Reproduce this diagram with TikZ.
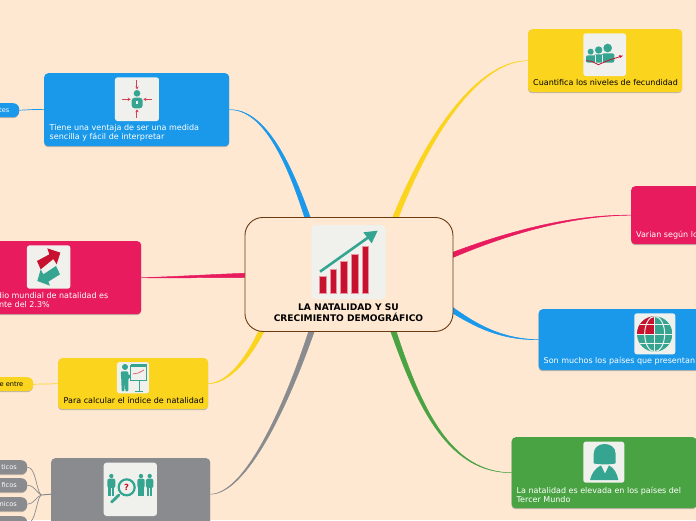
\documentclass[tikz,border=0pt]{standalone}
\usepackage{fontspec}
\setmainfont{DejaVu Sans}
\usetikzlibrary{calc,backgrounds,arrows.meta}
\definecolor{bgc}{HTML}{FFE8D2}
\definecolor{yel}{HTML}{FBD41E}
\definecolor{blu}{HTML}{1A98EA}
\definecolor{pnk}{HTML}{E81B5E}
\definecolor{grn}{HTML}{4AA343}
\definecolor{gry}{HTML}{8A8B8F}
\definecolor{brn}{HTML}{6B3A10}
\definecolor{ico}{HTML}{F0F1EC}
\definecolor{teal}{HTML}{35A592}
\definecolor{crim}{HTML}{C8102F}
\tikzset{
 x=1pt,y=-1pt,
 iconbox/.style={fill=ico,draw=none,rounded corners=2.5pt},
 lbl/.style={font=\fontsize{8}{9.3}\selectfont,inner sep=0,align=left,text=white},
 lblw/.style={lbl,anchor=west},
 lble/.style={lbl,anchor=east},
 lblk/.style={lbl,anchor=west,text=black},
 chiplbl/.style={font=\fontsize{6.6}{8}\selectfont,inner sep=0,anchor=east},
 toplbl/.style={font=\bfseries\fontsize{9.1}{11}\selectfont,inner sep=0,align=center,text=black},
 thinlink/.style={draw=#1,line width=.7pt},
 zoomed/.style={shift={#1},x=.33333pt,y=-.33333pt},
}
\newcommand{\cardbox}[6]{%
 \fill[black!50,rounded corners=4pt,opacity=.5] (#1,#2+1.2) rectangle ++(#3,#4);
 \node[fill=#5,rounded corners=4pt,anchor=north west,inner sep=0,minimum width=#3pt,minimum height=#4pt] (#6) at (#1,#2) {};
}
\newcommand{\chipbox}[6]{%
 \fill[black!50,rounded corners=6pt,opacity=.5] (#1,#2+1.2) rectangle ++(#3,#4);
 \node[fill=#5,rounded corners=6pt,anchor=north west,inner sep=0,minimum width=#3pt,minimum height=#4pt] (#6) at (#1,#2) {};
}
% colour, start, ctrl1, ctrl2, half width vector, end
\newcommand{\taper}[6]{%
 \path[fill=#1,draw=#1,line width=.45pt]
  ($(#2)+(#5)$) .. controls ($(#3)+0.62*(#5)$) and ($(#4)+0.28*(#5)$) .. (#6)
  .. controls ($(#4)-0.28*(#5)$) and ($(#3)-0.62*(#5)$) .. ($(#2)-(#5)$) -- cycle;
}
% small figure in zoomed units: x of centre, y of head, half width, bottom
\newcommand{\figic}[4]{%
 \fill[teal] (#1,#2) circle (6.5);
 \fill[teal,rounded corners=2pt] (#1-#3,#2+8) rectangle (#1+#3,#2+36);
 \fill[teal] (#1-#3*.72,#2+30) rectangle (#1-1,#4);
 \fill[teal] (#1+1,#2+30) rectangle (#1+#3*.72,#4);
}
\begin{document}
\begin{tikzpicture}
\useasboundingbox (0,0) rectangle (696,520);

% ---- central node
\node[draw=brn,line width=.9pt,fill=bgc,rounded corners=18pt,anchor=north west,inner sep=0,minimum width=208pt,minimum height=114pt] (root) at (244.5,217) {};
\node[toplbl] (title) at (348.5,312.5) {LA NATALIDAD Y SU\\CRECIMIENTO DEMOGRÁFICO};

% ---- cards and chips
\cardbox{44}{73}{185}{73}{blu}{tiene}
\cardbox{-40}{241}{181}{73}{pnk}{medio}
\cardbox{58}{358}{150}{51}{yel}{para}
\cardbox{51}{458}{159}{72}{gry}{causas}
\cardbox{528}{29}{154}{63}{yel}{cuant}
\cardbox{631}{186}{120}{58}{pnk}{varian}
\cardbox{538.5}{309}{200}{61}{blu}{muchos}
\cardbox{511.5}{437}{185}{71}{grn}{tercer}
\chipbox{-20}{103}{39}{14}{blu}{chipa}
\chipbox{-20}{377}{53}{14}{yel}{chipb}
\chipbox{-20}{460}{47}{14}{gry}{chipc}
\chipbox{-20}{478}{47}{14}{gry}{chipd}
\chipbox{-20}{497}{47}{14}{gry}{chipe}
\chipbox{-20}{516}{47}{14}{gry}{chipf}

% ---- labels
\node[lblw] (t1) at (49.5,132.5) {Tiene una ventaja de ser una medida\\sencilla y fácil de interpretar};
\node[lble] (t2) at (108.5,296) {dio mundial de natalidad es};
\node[lble] (t2b) at (50,305) {nte del 2.3\%};
\node[lblk] (t3) at (63.5,400) {Para calcular el índice de natalidad};
\node[lblk] (t4) at (533,83) {Cuantifica los niveles de fecundidad};
\node[lblw] (t5) at (636,235) {Varian según lo};
\node[lblw] (t6) at (543.5,361) {Son muchos los países que presentan};
\node[lblw] (t7) at (516.5,494.5) {La natalidad es elevada en los países del\\Tercer Mundo};
\node[chiplbl,text=white] (c1) at (9.5,110) {tes};
\node[chiplbl,text=black] (c2) at (23.5,384) {e entre};
\node[chiplbl,text=white] (c3) at (17,467) {ticos};
\node[chiplbl,text=white] (c4) at (17,485) {ficos};
\node[chiplbl,text=white] (c5) at (17,504) {nicos};

% ---- connectors
\begin{scope}[on background layer]
\fill[bgc] (0,0) rectangle (696,520);
\coordinate (r1) at ($(root.north)+(-41,2)$);
\coordinate (r2) at ($(root.north)+(46,2)$);
\coordinate (r3) at ($(root.east)+(-2,-19)$);
\coordinate (r4) at ($(root.east)+(-2,35)$);
\coordinate (r5) at ($(root.south)+(44,-2)$);
\coordinate (r6) at ($(root.west)+(2,1)$);
\coordinate (r7) at ($(root.south)+(-87,-2)$);
\coordinate (r8) at ($(root.south)+(-37,-2)$);
\taper{blu}{r1}{290,165}{265,109}{2.6,-0.8}{tiene.east}
\taper{yel}{r2}{430,130}{480,60.5}{2.6,0.9}{cuant.west}
\taper{pnk}{r3}{490,240}{560,215}{0.7,2.4}{varian.west}
\taper{blu}{r4}{475,325}{500,339.5}{1.2,-2.2}{muchos.west}
\taper{grn}{r5}{420,410}{450,472.5}{2.5,-0.8}{tercer.west}
\taper{pnk}{r6}{210,276}{170,277.5}{0,2.3}{medio.east}
\taper{yel}{r7}{245,365}{225,383.5}{2.3,1.1}{para.east}
\taper{gry}{r8}{285,410}{245,494}{2.6,0.7}{causas.east}
\draw[thinlink=blu] (chipa.east) .. controls (28,110) and (34,109) .. (tiene.west);
\draw[thinlink=yel] (chipb.east) .. controls (42,384) and (48,384) .. (para.west);
\coordinate (jct) at (41,495);
\draw[gry,line width=1pt] (causas.west) -- (jct);
\draw[thinlink=gry] (jct) .. controls (36,490) and (36,467) .. (chipc.east);
\draw[thinlink=gry] (jct) .. controls (36,492) and (34,485) .. (chipd.east);
\draw[thinlink=gry] (jct) .. controls (36,497) and (34,504) .. (chipe.east);
\draw[thinlink=gry] (jct) .. controls (36,500) and (36,523) .. (chipf.east);
\end{scope}

% ---- central icon (zoom units, origin 240,210)
\begin{scope}[zoomed={(240,210)}]
\fill[ico,rounded corners=4pt] (214,45) rectangle (437,267);
\foreach \a/\b/\t in {237/258/198,270/290/179,302/322/153,334/354/134,366/386/110}
  \path[fill=crim,draw=crim!45,line width=.4pt] (\a,\t) rectangle (\b,250);
\draw[teal,line width=2.6pt] (240,185) -- (395,75);
\fill[teal] (413,62) -- (370,67) -- (395,100) -- cycle;
\end{scope}

% ---- tiene icon
\begin{scope}[zoomed={(0,60)}]
\fill[iconbox] (345,52) rectangle (477,183);
\fill[teal] (411,100) circle (10);
\fill[teal,rounded corners=3pt] (395,113) rectangle (428,145);
\fill[ico] (409,122) rectangle (413,132);
\foreach \a/\b/\c/\d in {411/60/411/88,411/173/411/148,366/118/392/118,456/118/430/118}
  \draw[draw=crim!80,line width=1pt,-{Stealth[length=3pt,width=3.4pt,fill=crim]}] (\a,\b) -- (\c,\d);
\end{scope}

% ---- medio icon
\begin{scope}[zoomed={(0,230)}]
\fill[iconbox] (81,46) rectangle (211,176);
\fill[crim] (111,93) -- (148,73) -- (142,55) -- (181,68) -- (170,103) -- (160,87) -- (122,118) -- cycle;
\fill[teal] (168,108) -- (180,133) -- (145,155) -- (150,167) -- (112,153) -- (122,118) -- (130,133) -- cycle;
\end{scope}

% ---- para icon
\begin{scope}[zoomed={(0,230)}]
\fill[iconbox] (351,396) rectangle (447,490);
\fill[teal] (375,411) circle (9);
\fill[teal,rounded corners=1pt] (362,424) -- (384,424) -- (386,436) -- (400,435) -- (400,441) -- (385,445) -- (385,484) -- (376,484) -- (375,455) -- (373,484) -- (365,484) -- (364,450) -- cycle;
\path[draw=teal,line width=.8pt,fill=ico] (392,405) rectangle (440,450);
\fill[teal] (392,403) rectangle (440,410);
\draw[teal,line width=.6pt] (417,450) -- (417,484) (405,484) -- (428,484);
\draw[crim!70,line width=.7pt] (398,432) -- (415,429) -- (432,420);
\end{scope}

% ---- causas icon
\begin{scope}[zoomed={(0,440)}]
\fill[iconbox,rounded corners=3pt] (311,68) rectangle (471,228);
\figic{334}{108}{12}{167}
\figic{423}{108}{11}{167}
\figic{449}{108}{11}{167}
\draw[teal,line width=2.8pt,line cap=round] (357,165) -- (335,186);
\path[draw=teal,line width=2.2pt,fill=ico] (380,142) circle (24);
\node[text=crim,font=\bfseries\fontsize{8.5}{8.5}\selectfont,inner sep=0] (qm) at (380,143) {?};
\end{scope}

% ---- cuant icon
\begin{scope}[zoomed={(520,20)}]
\fill[iconbox] (190,40) rectangle (318,168);
\fill[teal] (212,95) circle (9) (236,90) circle (11) (263,84) circle (13);
\fill[teal,rounded corners=2pt] (198,106) rectangle (226,128);
\fill[teal,rounded corners=2pt] (222,103) rectangle (250,128);
\fill[teal,rounded corners=2pt] (246,100) rectangle (283,128);
\draw[ico,line width=.4pt] (226,106) -- (226,128) (248,104) -- (248,128);
\draw[crim,line width=.8pt] (198,122) -- (215,124) -- (235,134) -- (268,120) -- (300,110);
\fill[crim] (309,107) -- (296,106) -- (300,114) -- cycle;
\end{scope}

% ---- globe icon
\begin{scope}[zoomed={(530,180)}]
\fill[iconbox] (313,400) rectangle (436,523);
\begin{scope}
\clip (374,462) circle (53);
\fill[teal] (321,409) rectangle (427,515);
\fill[crim] (321,409) rectangle (374,462);
\draw[ico,line width=1pt] (321,433) -- (427,433) (321,462) -- (427,462) (321,490) -- (427,490) (374,409) -- (374,515);
\draw[ico,line width=1pt] (374,462) ellipse (30 and 53);
\end{scope}
\end{scope}

% ---- woman icon
\begin{scope}[zoomed={(505,430)}]
\fill[iconbox] (235,35) rectangle (358,158);
\fill[teal] (266,100) -- (266,72) .. controls (266,52) and (282,42) .. (299,42) .. controls (316,42) and (332,52) .. (332,72) -- (332,100) .. controls (320,104) and (280,104) .. (266,100) -- cycle;
\fill[teal] (255,150) .. controls (260,130) and (270,115) .. (288,106) -- (300,131) -- (312,106) .. controls (328,115) and (336,130) .. (340,150) -- cycle;
\end{scope}
\end{tikzpicture}
\end{document}
